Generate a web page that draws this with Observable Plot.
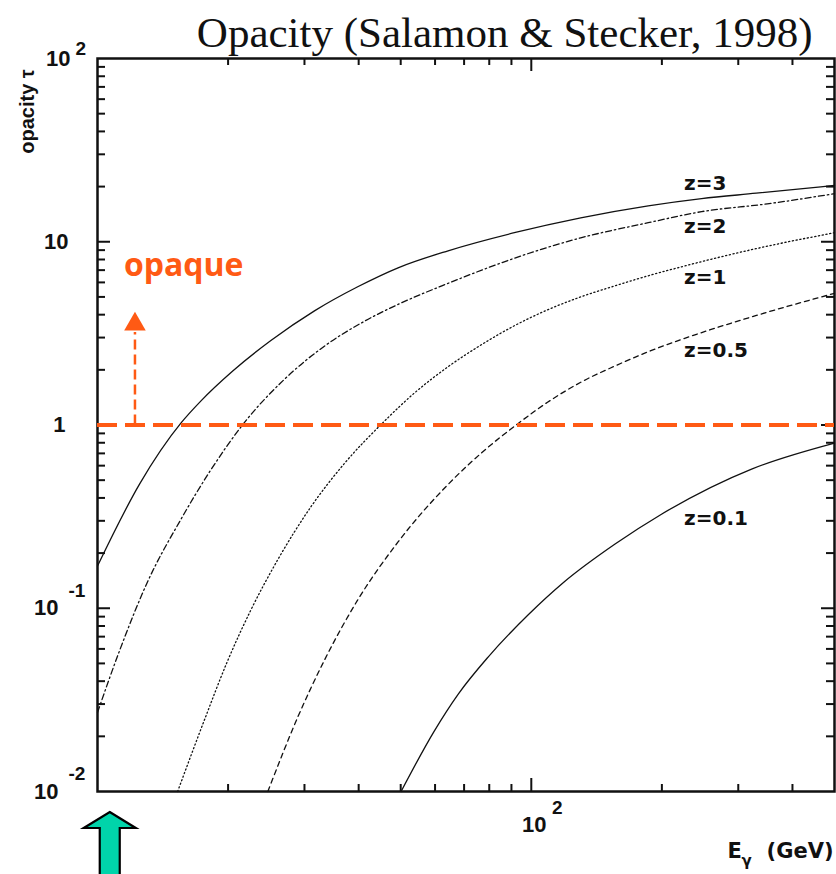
<!DOCTYPE html>
<html><head><meta charset="utf-8">
<script src="https://cdn.jsdelivr.net/npm/d3@7"></script>
<script src="https://cdn.jsdelivr.net/npm/@observablehq/plot@0.6"></script>
<style>
body{margin:0;background:#fff;}
#chart{width:836px;height:874px;}
</style></head><body><div id="chart"></div>
<script>
// ---- data ----
const energyZ3 = [10, 12.5, 15.6, 17.3, 20.5, 25.1, 31.7, 39.8, 49.3, 64.3, 91.4, 130, 186, 247, 330, 500];
const tauZ3    = [0.17, 0.476, 1.03, 1.35, 1.97, 2.89, 4.21, 5.68, 7.21, 8.93, 11.2, 13.5, 15.7, 17.2, 18.4, 20.3];
const energyZ2 = [10, 11.3, 13.0, 15.6, 18.2, 21.8, 27.0, 33.4, 41.4, 49.3, 64.3, 91.4, 130, 186, 247, 350, 500];
const tauZ2    = [0.027, 0.0606, 0.137, 0.308, 0.563, 1.03, 1.78, 2.70, 3.70, 4.55, 5.93, 8.13, 10.5, 12.7, 14.6, 16.1, 18.3];
const energyZ1 = [15.3, 17.7, 19.9, 22.5, 26.0, 31.0, 37.2, 45.5, 53.7, 64.3, 76.7, 91.4, 109, 130, 156, 186, 222, 329, 500];
const tauZ1    = [0.01, 0.0251, 0.0509, 0.0963, 0.183, 0.356, 0.622, 1.03, 1.49, 2.08, 2.74, 3.48, 4.25, 5.00, 5.75, 6.52, 7.30, 9.16, 11.2];
const energyZ05 = [24.7, 29.0, 33.4, 39.8, 49.3, 64.3, 76.7, 93.3, 109, 130, 156, 186, 222, 329, 500];
const tauZ05    = [0.01, 0.0257, 0.0524, 0.111, 0.230, 0.474, 0.703, 1.02, 1.33, 1.71, 2.10, 2.51, 2.93, 3.95, 5.23];
const energyZ01 = [50.1, 59.7, 67.8, 79.6, 98.4, 119, 156, 200, 322, 500];
const tauZ01    = [0.01, 0.0213, 0.0339, 0.0543, 0.0921, 0.139, 0.224, 0.327, 0.575, 0.797];

const redshiftLabels = ["z=3", "z=2", "z=1", "z=0.5", "z=0.1"];
const labelEnergy = [225, 225, 225, 225, 225];
const labelTau = [20.7, 12.1, 6.36, 2.54, 0.31];

const opaqueThreshold = [1];
const opaqueArrowE = [12.2];
const opaqueArrowTau = [3.2];
const opaqueTipTau = [3.55];
const opaqueText = ["opaque"];
const opaqueTextE = [15.8];
const opaqueTextTau = [7.4];

const markerEnergy = [10.7];

const xDomain = [10, 500];
const yDomain = [0.01, 100];
const xMajorTicks = [100];
const xMinorTicks = [20, 30, 40, 50, 60, 70, 80, 90, 200, 300, 400];
const yMajorTicks = [0.1, 1, 10];
const yMinorTicks = [0.02,0.03,0.04,0.05,0.06,0.07,0.08,0.09,
                     0.2,0.3,0.4,0.5,0.6,0.7,0.8,0.9,
                     2,3,4,5,6,7,8,9,
                     20,30,40,50,60,70,80,90];
const yTickValues = [100, 10, 1, 0.1, 0.01];
const yTickBase = ["10", "10", "1", "10", "10"];
const yTickExp = ["2", "", "", "-1", "-2"];
const xTickValues = [100];
const xTickBase = ["10"];
const xTickExp = ["2"];

const titleText = "Opacity (Salamon & Stecker, 1998)";
const yLabelText = "opacity \u03C4";

// ---- build table ----
const series = [
  {z: "z=3", E: energyZ3, t: tauZ3},
  {z: "z=2", E: energyZ2, t: tauZ2},
  {z: "z=1", E: energyZ1, t: tauZ1},
  {z: "z=0.5", E: energyZ05, t: tauZ05},
  {z: "z=0.1", E: energyZ01, t: tauZ01}
];
const dashes = {"z=3": null, "z=2": "6,3,1.5,3", "z=1": "1.2,2.6", "z=0.5": "5,4", "z=0.1": null};

const W = 836, H = 874, mT = 58, mB = 83, mL = 97, mR = 2;
const plotH = H - mT - mB, plotW = W - mL - mR;
const orange = "#ff5a14";
const bold = "Liberation Sans, Arial, Helvetica, sans-serif";
const wide = "DejaVu Sans, Verdana, sans-serif";

const lineMarks = series.map(s => Plot.line(s.E.map((e, i) => ({E: e, tau: s.t[i]})), {
  x: "E", y: "tau", curve: "monotone-x", stroke: "#111", strokeWidth: 1.3,
  strokeDasharray: dashes[s.z]
}));

const yBaseDx = [-27, -29, -32, -39, -39];
const yExpDx = [-22, 0, 0, -29, -29];
const yExpDy = [-10, 0, 0, -17, -18];
const yLabelMarks = [];
yTickValues.forEach((v, i) => {
  yLabelMarks.push(Plot.text([v], {y: d => d, text: () => yTickBase[i], frameAnchor: "left",
    textAnchor: "end", dx: yBaseDx[i], fontSize: 22, fontWeight: "bold", fontFamily: bold, fill: "#111"}));
  if (yTickExp[i]) yLabelMarks.push(Plot.text([v], {y: d => d, text: () => yTickExp[i], frameAnchor: "left",
    textAnchor: "start", dx: yExpDx[i], dy: yExpDy[i], fontSize: 19, fontWeight: "bold", fontFamily: bold, fill: "#111"}));
});

function tealArrow(index, scales, values, dimensions) {
  const g = d3.create("svg:g");
  const base = dimensions.height - dimensions.marginBottom;
  for (const E of markerEnergy) {
    const cx = scales.x(E);
    const tip = base + 21, neck = base + 37, bottom = dimensions.height + 5;
    const hw = 26, sw = 10;
    g.append("path")
      .attr("d", `M${cx},${tip} L${cx+hw},${neck} L${cx+sw},${neck} L${cx+sw},${bottom} L${cx-sw},${bottom} L${cx-sw},${neck} L${cx-hw},${neck} Z`)
      .attr("fill", "#00d4aa").attr("stroke", "#000").attr("stroke-width", 2.2).attr("stroke-linejoin", "miter");
  }
  return g.node();
}

const chart = Plot.plot({
  width: W, height: H,
  marginTop: mT, marginBottom: mB, marginLeft: mL, marginRight: mR,
  x: {type: "log", domain: xDomain, axis: null},
  y: {type: "log", domain: yDomain, axis: null},
  style: {background: "#fff", fontFamily: bold},
  marks: [
    ...lineMarks,
    Plot.text(redshiftLabels, {x: (d, i) => labelEnergy[i], y: (d, i) => labelTau[i], text: d => d,
      textAnchor: "start", fontSize: 20, fontWeight: "bold", fontFamily: wide, fill: "#111"}),
    // ticks bottom/top
    Plot.tickX(xMinorTicks, {x: d => d, insetTop: plotH - 7, stroke: "#111", strokeWidth: 2}),
    Plot.tickX(xMinorTicks, {x: d => d, insetBottom: plotH - 7, stroke: "#111", strokeWidth: 2}),
    Plot.tickX(xMajorTicks, {x: d => d, insetTop: plotH - 13, stroke: "#111", strokeWidth: 2}),
    Plot.tickX(xMajorTicks, {x: d => d, insetBottom: plotH - 13, stroke: "#111", strokeWidth: 2}),
    // ticks left/right
    Plot.tickY(yMinorTicks, {y: d => d, insetRight: plotW - 8, stroke: "#111", strokeWidth: 2}),
    Plot.tickY(yMinorTicks, {y: d => d, insetLeft: plotW - 8, stroke: "#111", strokeWidth: 2}),
    Plot.tickY(yMajorTicks, {y: d => d, insetRight: plotW - 13, stroke: "#111", strokeWidth: 2}),
    Plot.tickY(yMajorTicks, {y: d => d, insetLeft: plotW - 13, stroke: "#111", strokeWidth: 2}),
    Plot.frame({stroke: "#111", strokeWidth: 2.5}),
    // opaque threshold and arrow
    Plot.ruleY(opaqueThreshold, {y: d => d, stroke: orange, strokeWidth: 4, strokeDasharray: "20,8"}),
    Plot.ruleX(opaqueArrowE, {x: d => d, y1: () => 1, y2: (d, i) => opaqueArrowTau[i], stroke: orange, strokeWidth: 2.5, strokeDasharray: "10,5"}),
    Plot.dot(opaqueArrowE, {x: d => d, y: (d, i) => opaqueTipTau[i], symbol: "triangle", r: 8, fill: orange, stroke: "none"}),
    Plot.text(opaqueText, {x: (d, i) => opaqueTextE[i], y: (d, i) => opaqueTextTau[i], text: d => d,
      fill: orange, fontSize: 32, fontWeight: "bold", fontFamily: "Open Sans, sans-serif"}),
    // tick labels
    ...yLabelMarks,
    Plot.text(xTickValues, {x: d => d, text: (d, i) => xTickBase[i], frameAnchor: "bottom", dx: 3, dy: 40,
      fontSize: 22, fontWeight: "bold", fontFamily: bold, fill: "#111"}),
    Plot.text(xTickValues, {x: d => d, text: (d, i) => xTickExp[i], frameAnchor: "bottom", dx: 26, dy: 22,
      fontSize: 19, fontWeight: "bold", fontFamily: bold, fill: "#111"}),
    // axis titles
    Plot.text([yLabelText], {text: d => d, frameAnchor: "top-left", textAnchor: "middle", lineAnchor: "middle",
      dx: -70, dy: 53, rotate: -90,
      fontSize: 20, fontWeight: "bold", fontFamily: bold, fill: "#111"}),
    Plot.text(["E"], {text: d => d, frameAnchor: "bottom-right", dx: -107, dy: 66, textAnchor: "start",
      fontSize: 21, fontWeight: "bold", fontFamily: wide, fill: "#111"}),
    Plot.text(["\u03B3"], {text: d => d, frameAnchor: "bottom-right", dx: -93, dy: 74, textAnchor: "start",
      fontSize: 15, fontWeight: "bold", fontFamily: wide, fill: "#111"}),
    Plot.text(["(GeV)"], {text: d => d, frameAnchor: "bottom-right", dx: -1, dy: 66, textAnchor: "end",
      fontSize: 21, fontWeight: "bold", fontFamily: wide, fill: "#111"}),
    // title
    Plot.text([titleText], {text: d => d, frameAnchor: "top-right", dx: -22, dy: -12, textAnchor: "end", lineAnchor: "bottom",
      fontSize: 43, fontFamily: "Liberation Serif, Times New Roman, serif", fill: "#111"}),
    tealArrow
  ]
});
document.getElementById("chart").appendChild(chart);
</script>
</body></html>
